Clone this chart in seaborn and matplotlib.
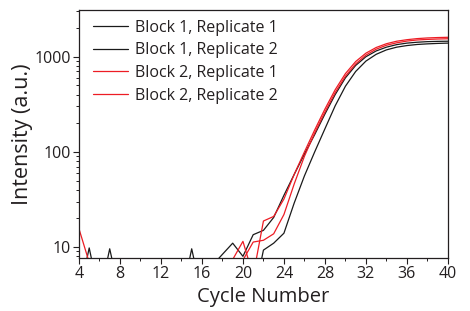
import numpy as np
import pandas as pd
import matplotlib
matplotlib.use("Agg")
import matplotlib.pyplot as plt
import matplotlib.ticker as mticker
import seaborn as sns

# -------------------------------------------------------
# DATA
# -------------------------------------------------------
cycles = list(range(4, 41))

block1_rep1 = [3.1, 9.8, 3.0, 2.6, 3.3, 2.9, 3.4, 3.0, 2.7, 3.2, 2.9, 9.6, 3.1,
               6.4, 8.4, 11.0, 8.0, 13.5, 15.0, 20.5, 35, 58, 95, 152, 250, 400,
               600, 810, 1000, 1150, 1260, 1340, 1390, 1420, 1440, 1450, 1455]
block1_rep2 = [2.8, 3.2, 3.0, 9.6, 3.1, 2.7, 3.3, 2.9, 3.1, 2.8, 3.2, 3.0, 2.7,
               3.1, 2.9, 3.3, 3.0, 2.8, 9.3, 11.0, 14.0, 29, 56, 100, 175, 305,
               490, 700, 900, 1060, 1180, 1260, 1310, 1345, 1365, 1380, 1390]
block2_rep1 = [15.6, 6.9, 3.0, 2.7, 3.2, 2.9, 3.1, 2.8, 3.3, 3.0, 2.9, 3.2, 2.8,
               3.1, 4.0, 7.4, 11.5, 5.0, 18.8, 21.0, 32, 58, 100, 170, 282, 450,
               665, 890, 1090, 1250, 1370, 1455, 1510, 1550, 1575, 1590, 1600]
block2_rep2 = [3.0, 2.9, 3.2, 2.8, 3.1, 3.3, 2.7, 3.0, 2.9, 3.2, 3.1, 2.8, 3.0,
               2.9, 3.2, 5.0, 7.3, 11.3, 11.8, 13.8, 22, 46, 90, 158, 262, 420,
               625, 840, 1040, 1200, 1320, 1400, 1460, 1500, 1520, 1535, 1545]

labels = ["Block 1, Replicate 1", "Block 1, Replicate 2",
          "Block 2, Replicate 1", "Block 2, Replicate 2"]
series = [block1_rep1, block1_rep2, block2_rep1, block2_rep2]
colors = ["#1a1a1a", "#1a1a1a", "#ed1c24", "#ed1c24"]

df = pd.concat([pd.DataFrame({"cycle": cycles, "intensity": s, "sample": lab})
                for s, lab in zip(series, labels)], ignore_index=True)

# -------------------------------------------------------
# PLOT
# -------------------------------------------------------
sns.set_style("ticks")
plt.rcParams["font.family"] = ["Open Sans", "DejaVu Sans"]
txt = "#231f20"

fig = plt.figure(figsize=(4.7, 3.11), dpi=100)
ax = fig.add_axes([0.168, 0.170, 0.785, 0.798])

sns.lineplot(data=df, x="cycle", y="intensity", hue="sample",
             palette=dict(zip(labels, colors)), linewidth=0.9,
             estimator=None, ax=ax)

ax.set_yscale("log")
ax.set_xlim(4, 40)
ax.set_ylim(7.66, 3100)

ax.xaxis.set_major_locator(mticker.MultipleLocator(4))
ax.xaxis.set_minor_locator(mticker.MultipleLocator(2))
ax.yaxis.set_major_locator(mticker.FixedLocator([10, 100, 1000]))
ax.yaxis.set_major_formatter(mticker.FixedFormatter(["10", "100", "1000"]))
ax.yaxis.set_minor_locator(mticker.LogLocator(base=10, subs=np.arange(2, 10)))
ax.yaxis.set_minor_formatter(mticker.NullFormatter())

ax.tick_params(which="major", direction="out", length=4, width=0.8,
               labelsize=11.5, colors=txt, pad=2)
ax.tick_params(which="minor", direction="out", length=2.5, width=0.7, colors=txt)
for sp in ax.spines.values():
    sp.set_visible(True)
    sp.set_color(txt)
    sp.set_linewidth(0.9)

ax.set_xlabel("Cycle Number", fontsize=14.5, color=txt, labelpad=3)
ax.set_ylabel("Intensity (a.u.)", fontsize=15.5, color=txt, labelpad=1)

ax.legend(loc="upper left", bbox_to_anchor=(0.012, 1.0), frameon=False,
          fontsize=11.5, handlelength=2.2, handletextpad=0.45,
          labelspacing=0.42, borderaxespad=0.2)
for t in ax.get_legend().get_texts():
    t.set_color(txt)

fig.savefig("out.png", dpi=100)
